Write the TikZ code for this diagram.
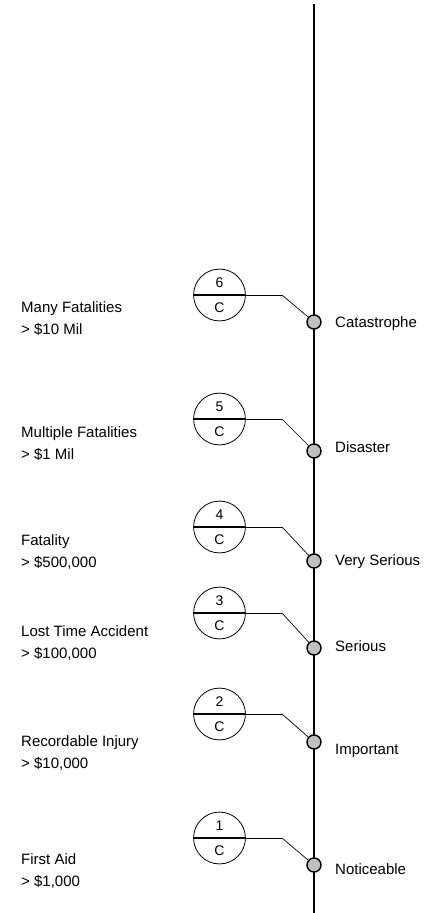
\documentclass[tikz,border=0pt]{standalone}
\usepackage{fontspec}
\setmainfont{Liberation Sans}
\usetikzlibrary{
  shapes.multipart,
  chains,
  scopes
}

\begin{document}
\begin{tikzpicture}[
      x=1pt,y=-1pt,
      consequence/.style={
         circle split,
         minimum size=50pt,
         inner xsep=4pt,
         inner ysep=7pt,
         draw=black,
         line width=0.8pt,
         font=\fontsize{14}{16}\selectfont
      },
      level/.style={
         circle,
         minimum size=14pt,
         inner sep=0pt,
         line width=1.4pt,
         draw=black,
         fill=black!25
      },
      rank/.style={
         anchor=west,
         inner sep=0pt,
         text height=10.7pt,
         text depth=0pt,
         font=\fontsize{15}{18}\selectfont
      },
      loss/.style={
         anchor=west,
         inner sep=0pt,
         align=left,
         font=\fontsize{15}{22}\selectfont
      },
      point/.style={coordinate},
      divider/.style={line width=1.6pt},
      scale line/.style={line width=2.2pt},
      every join/.style={line width=0.7pt}
    ]
    \useasboundingbox (0,0) rectangle (425,913);
    \node (top) [point] at (314,4) {};
    \node (bottom) [point] at (314,913) {};
    \draw[scale line] (top) -- (bottom);

    % Catastrophe
    \node (c6) [consequence] at (219.5,295) {6 \nodepart{lower} C};
    \node (k6) [point] at (282,295) {};
    \node (m6) [level] at (314,322) {};
    \node (r6) [rank] at (335,322) {Catastrophe};
    \node (l6) [loss] at (21,318.5) {Many Fatalities\\> \$10 Mil};
    % Disaster
    \node (c5) [consequence] at (219.5,419) {5 \nodepart{lower} C};
    \node (k5) [point] at (282,419) {};
    \node (m5) [level] at (314,451) {};
    \node (r5) [rank] at (335,447) {Disaster};
    \node (l5) [loss] at (21,443.5) {Multiple Fatalities\\> \$1 Mil};
    % Very Serious
    \node (c4) [consequence] at (219.5,527) {4 \nodepart{lower} C};
    \node (k4) [point] at (282,527) {};
    \node (m4) [level] at (314,561) {};
    \node (r4) [rank] at (335,560) {Very Serious};
    \node (l4) [loss] at (21,552.5) {Fatality\\> \$500,000};
    % Serious
    \node (c3) [consequence] at (219.5,613) {3 \nodepart{lower} C};
    \node (k3) [point] at (282,613) {};
    \node (m3) [level] at (314,648) {};
    \node (r3) [rank] at (335,646) {Serious};
    \node (l3) [loss] at (21,643.5) {Lost Time Accident\\> \$100,000};
    % Important
    \node (c2) [consequence] at (219.5,714) {2 \nodepart{lower} C};
    \node (k2) [point] at (282,714) {};
    \node (m2) [level] at (314,742) {};
    \node (r2) [rank] at (335,749) {Important};
    \node (l2) [loss] at (21,753.5) {Recordable Injury\\> \$10,000};
    % Noticeable
    \node (c1) [consequence] at (219.5,838) {1 \nodepart{lower} C};
    \node (k1) [point] at (282,838) {};
    \node (m1) [level] at (314,865) {};
    \node (r1) [rank] at (335,869) {Noticeable};
    \node (l1) [loss] at (21,871.5) {First Aid\\> \$1,000};

  { [start chain]
       \chainin (c6);
       \chainin (k6)    [join];
       \chainin (m6)    [join];
  }
  { [start chain]
       \chainin (c5);
       \chainin (k5)    [join];
       \chainin (m5)    [join];
  }
  { [start chain]
       \chainin (c4);
       \chainin (k4)    [join];
       \chainin (m4)    [join];
  }
  { [start chain]
       \chainin (c3);
       \chainin (k3)    [join];
       \chainin (m3)    [join];
  }
  { [start chain]
       \chainin (c2);
       \chainin (k2)    [join];
       \chainin (m2)    [join];
  }
  { [start chain]
       \chainin (c1);
       \chainin (k1)    [join];
       \chainin (m1)    [join];
  }
    \draw[divider] (c6.west) -- (c6.east);
    \draw[divider] (c5.west) -- (c5.east);
    \draw[divider] (c4.west) -- (c4.east);
    \draw[divider] (c3.west) -- (c3.east);
    \draw[divider] (c2.west) -- (c2.east);
    \draw[divider] (c1.west) -- (c1.east);
\end{tikzpicture}
\end{document}
